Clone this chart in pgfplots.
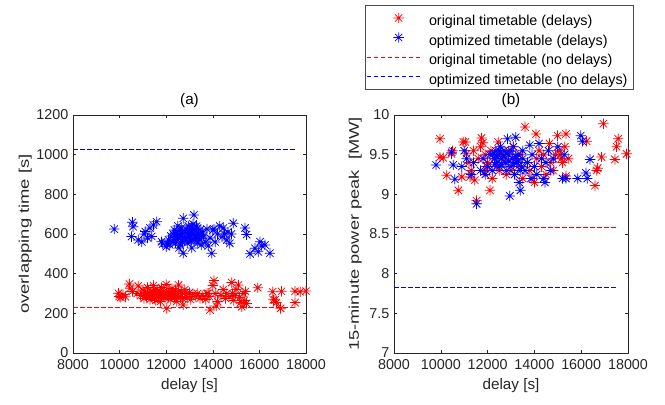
\documentclass[border=0pt]{standalone}
\usepackage{fontspec}
\setmainfont{Liberation Sans}
\usepackage{graphicx}
\usepackage{pgfplots}
\usepackage{pgfplotstable}
\pgfplotsset{compat=1.18}

\pgfdeclareplotmark{mstar}{%
  \pgfpathmoveto{\pgfqpoint{-\pgfplotmarksize}{0pt}}%
  \pgfpathlineto{\pgfqpoint{\pgfplotmarksize}{0pt}}%
  \pgfpathmoveto{\pgfqpoint{0pt}{-\pgfplotmarksize}}%
  \pgfpathlineto{\pgfqpoint{0pt}{\pgfplotmarksize}}%
  \pgfpathmoveto{\pgfqpoint{-0.7071\pgfplotmarksize}{-0.7071\pgfplotmarksize}}%
  \pgfpathlineto{\pgfqpoint{0.7071\pgfplotmarksize}{0.7071\pgfplotmarksize}}%
  \pgfpathmoveto{\pgfqpoint{-0.7071\pgfplotmarksize}{0.7071\pgfplotmarksize}}%
  \pgfpathlineto{\pgfqpoint{0.7071\pgfplotmarksize}{-0.7071\pgfplotmarksize}}%
  \pgfusepathqstroke}

% panel (a): original timetable (delays)
\pgfplotstableread{
x y
9950 301
9980 285
10050 280
10150 295
10250 283
10420 348
10450 326
10550 310
10800 338
10750 300
10900 290
11000 318
11050 275
11100 305
11150 285
11200 330
11250 296
11300 270
11350 310
11400 288
11450 340
11500 300
11550 265
11600 320
11650 280
11700 295
11750 260
11800 330
11850 305
11900 290
11950 275
12000 345
12020 225
12050 310
12100 285
12150 300
12200 270
12250 325
12300 295
12350 280
12400 315
12450 260
12500 300
12530 343
12600 285
12650 310
12700 275
12730 242
12800 320
12850 295
12900 280
13000 305
13050 270
13150 298
13250 285
13350 300
13450 275
13550 290
13700 270
13750 300
13800 301
13850 285
13880 217
14000 340
14050 365
14100 300
14150 237
14200 260
14350 290
14450 320
14550 275
14600 300
14700 285
14810 355
14850 300
14900 265
14950 290
15000 320
15100 343
15150 280
15200 255
15240 233
15300 300
15350 265
15400 310
15450 250
15930 329
16570 309
16600 268
16670 267
16730 254
16950 311
16910 225
17530 311
17530 254
17750 309
18000 312
11100 290
11200 305
11300 285
11400 310
11500 275
11600 300
11700 315
11800 290
11900 310
12000 290
12100 305
12200 295
12300 310
12400 290
12500 280
}\redA

% panel (a): optimized timetable (delays)
\pgfplotstableread{
x y
9770 625
10550 659
10580 637
10510 587
10800 570
10950 560
11050 600
11100 612
11200 580
11300 630
11380 588
11450 645
11590 662
11800 561
11850 550
12000 536
12050 550
12100 570
12150 545
12200 590
12250 560
12300 600
12350 575
12400 555
12450 610
12500 585
12550 530
12600 620
12650 565
12700 600
12730 679
12730 503
12800 580
12850 625
12900 555
12950 640
13000 590
13050 610
13100 570
13150 650
13190 696
13200 620
13250 580
13300 640
13350 555
13400 600
13450 570
13500 545
13550 610
13600 590
13700 560
13750 625
13800 540
13880 580
13950 503
14000 620
14050 625
14100 560
14200 600
14300 640
14400 585
14450 630
14500 600
14600 570
14650 610
14730 553
14800 600
14880 654
15380 630
15450 597
15600 500
15810 528
15950 510
16030 561
16100 540
16240 545
16450 503
12350 620
12400 600
12450 575
12500 640
12550 600
12600 585
12650 630
12700 560
12800 610
12850 570
12900 600
12950 590
13000 620
13050 565
13100 640
13150 600
13200 575
13250 615
13300 590
13350 630
13400 580
13450 620
13500 595
13100 530
12600 545
}\blueA

% panel (b): original timetable (delays)
\pgfplotstableread{
x y
9966 9.70
9966 9.47
10100 9.46
10250 9.24
10460 9.51
10500 9.55
10750 9.05
10900 9.22
10960 9.66
11050 9.66
11100 9.51
11200 9.40
11250 9.22
11300 9.30
11400 9.55
11450 9.18
11530 8.92
11600 9.45
11700 9.60
11740 9.71
11800 9.65
11850 9.28
11900 9.50
11950 9.35
12000 9.40
12100 9.05
12150 9.55
12200 9.20
12300 9.45
12400 9.35
12450 9.66
12500 9.30
12600 9.50
12700 9.42
12800 9.25
12900 9.55
13000 9.30
13100 9.60
13200 9.45
13300 9.35
13400 9.50
13500 9.20
13600 9.85
13700 9.40
13800 9.30
13900 9.20
14000 9.15
14070 9.76
14100 9.45
14200 9.55
14300 9.35
14400 9.50
14500 9.25
14640 9.64
14700 9.40
14800 9.30
14900 9.50
14990 9.74
15050 9.55
15100 9.50
15150 9.45
15200 9.40
15300 9.60
15350 9.76
15350 9.23
15450 9.45
16230 9.67
16590 9.11
16660 9.30
16700 9.33
16870 9.47
16950 9.89
17440 9.44
17510 9.60
17580 9.70
17940 9.51
}\redB

% panel (b): optimized timetable (delays)
\pgfplotstableread{
x y
9800 9.37
10460 9.53
10530 9.37
10600 9.19
10900 9.35
11000 9.55
11100 9.45
11300 9.25
11400 9.40
11530 8.88
11700 9.30
11800 9.45
11900 9.25
12000 9.35
12100 9.50
12200 9.30
12300 9.45
12350 9.55
12400 9.40
12450 9.50
12500 9.35
12550 9.60
12600 9.45
12700 9.55
12750 9.40
12800 9.30
12850 9.70
12900 9.50
12950 8.98
13000 9.35
13050 9.45
13100 9.60
13150 9.25
13200 9.72
13250 9.40
13300 9.50
13350 9.15
13400 9.05
13450 9.35
13500 9.45
13600 9.30
13700 9.40
13800 9.62
13850 9.20
13900 9.50
14000 9.35
14100 9.25
14200 9.64
14300 9.45
14400 9.20
14450 9.15
14500 9.40
14600 9.55
14700 9.30
14800 9.45
15000 9.60
15200 9.20
15280 9.50
15350 9.20
15850 9.20
15980 9.74
16050 9.67
16200 9.27
16260 9.20
16380 9.44
12400 9.48
12500 9.55
12600 9.38
12700 9.48
12800 9.52
12900 9.42
13000 9.55
13100 9.38
13200 9.48
13300 9.42
13400 9.30
13500 9.55
12300 9.38
12200 9.50
}\blueB

\definecolor{axgray}{gray}{0.15}

\newcommand{\tfont}{\fontsize{14.4}{17}\selectfont}
\newcommand{\lfont}{\fontsize{15.3}{18}\selectfont}
\newcommand{\yfont}{\fontsize{14}{17}\selectfont}

\pgfplotsset{
  common/.style={
    scale only axis,
    anchor=south west,
    height=238bp,
    xmin=8000, xmax=18000,
    xtick={8000,10000,...,18000},
    scaled x ticks=false,
    /pgf/number format/1000 sep={},
    /pgf/number format/assume math mode=true,
    axis line style={draw=axgray, line width=0.5bp},
    tick style={draw=axgray, line width=0.5bp},
    major tick length=3bp,
    tick align=inside,
    xtick pos=both, ytick pos=both,
    tick label style={text=axgray, font=\tfont},
    xticklabel style={inner sep=0bp, yshift=-6.5bp},
    yticklabel style={inner sep=0bp, xshift=-4.5bp},
    xlabel style={text=axgray, font=\lfont, inner sep=0bp, at={(rel axis cs:0.5,0)}, anchor=base, yshift=-36bp},
    title style={text=black, font=\lfont, inner sep=0bp, at={(rel axis cs:0.5,1)}, anchor=base, yshift=4.5bp},
    xlabel={delay [s]},
  },
}

\begin{document}
\begin{tikzpicture}[font=\tfont]
\useasboundingbox (0,0) rectangle (665bp,405bp);

\begin{axis}[common,
  at={(73bp,52bp)}, width=233bp,
  ymin=0, ymax=1200, ytick={0,200,...,1200},
  title={(a)},
  ylabel={\scalebox{1.32}[1]{overlapping time [s]}},
  ylabel style={text=axgray, font=\yfont, inner sep=0bp, at={(rel axis cs:0,0.5)}, anchor=south, yshift=41bp},
]
\addplot[only marks, mark=mstar, mark size=5.2bp, line width=0.75bp, draw=red, fill=red] table[x=x,y=y] {\redA};
\addplot[only marks, mark=mstar, mark size=5.2bp, line width=0.75bp, draw=blue, fill=blue] table[x=x,y=y] {\blueA};
\addplot[mark=none, draw=red, line width=0.7bp, dash pattern=on 4.5bp off 2.5bp] coordinates {(8000,230) (17550,230)};
\addplot[mark=none, draw=blue, line width=0.7bp, dash pattern=on 4.5bp off 2.5bp] coordinates {(8000,1025) (17550,1025)};
\end{axis}

\begin{axis}[common,
  at={(394bp,52bp)}, width=234bp,
  ymin=7, ymax=10, ytick={7,7.5,...,10},
  title={(b)},
  ylabel={\scalebox{1.31}[1]{15-minute power peak\ \ [MW]}},
  ylabel style={text=axgray, font=\yfont, inner sep=0bp, at={(rel axis cs:0,0.5)}, anchor=south, yshift=32bp},
  legend cell align=left,
  legend style={at={(rel axis cs:0,1)}, anchor=north west, xshift=-29bp, yshift=110bp,
    draw=black!70, line width=0.5bp, text=black, font=\tfont,
    inner xsep=1bp, inner ysep=5bp, column sep=6bp, row sep=4bp,
    nodes={inner sep=0bp, text height=15.5bp, text depth=0bp}},
]
\addplot[only marks, mark=mstar, mark size=5.2bp, line width=0.75bp, draw=red, fill=red,
  legend image code/.code={\path (0bp,0bp) (56bp,0bp);\draw[red, line width=0.75bp, mark=mstar, mark size=5.2bp, only marks] plot coordinates {(32bp,0bp)};}] table[x=x,y=y] {\redB};
\addlegendentry{original timetable (delays)\hspace*{5bp}}
\addplot[only marks, mark=mstar, mark size=5.2bp, line width=0.75bp, draw=blue, fill=blue,
  legend image code/.code={\path (0bp,0bp) (56bp,0bp);\draw[blue, line width=0.75bp, mark=mstar, mark size=5.2bp, only marks] plot coordinates {(32bp,0bp)};}] table[x=x,y=y] {\blueB};
\addlegendentry{optimized timetable (delays)\hspace*{5bp}}
\addplot[mark=none, draw=red, line width=0.7bp, dash pattern=on 4.5bp off 2.5bp,
  legend image code/.code={\draw[red, line width=0.7bp, dash pattern=on 4.5bp off 2.5bp] (0bp,0bp) -- (56bp,0bp);}] coordinates {(8000,8.58) (17550,8.58)};
\addlegendentry{original timetable (no delays)\hspace*{5bp}}
\addplot[mark=none, draw=blue, line width=0.7bp, dash pattern=on 4.5bp off 2.5bp,
  legend image code/.code={\draw[blue, line width=0.7bp, dash pattern=on 4.5bp off 2.5bp] (0bp,0bp) -- (56bp,0bp);}] coordinates {(8000,7.83) (17550,7.83)};
\addlegendentry{optimized timetable (no delays)\hspace*{5bp}}
\end{axis}
\end{tikzpicture}
\end{document}
